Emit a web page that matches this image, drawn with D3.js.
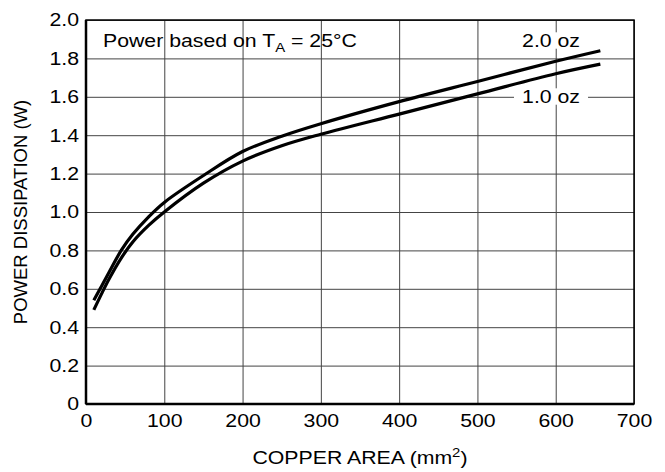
<!DOCTYPE html>
<html>
<head>
<meta charset="utf-8">
<script src="https://cdn.jsdelivr.net/npm/d3@7"></script>
<style>
  body { margin: 0; background: #fff; }
  svg { font-family: "Liberation Sans", Arial, Helvetica, sans-serif; }
  .grid line { stroke: #444; stroke-width: 1; }
  .tick text { fill: #000; font-size: 18.5px; }
</style>
</head>
<body>
<div id="chart"></div>
<script>
// copper area (mm^2) where the curves were read
var area = [10, 20, 30, 45, 60, 80, 100, 150, 200, 250, 300, 400, 500, 600, 657];
// 2.0 oz copper
var power2oz = [0.54, 0.615, 0.69, 0.80, 0.885, 0.975, 1.05, 1.19, 1.315, 1.395, 1.46, 1.575, 1.68, 1.785, 1.84];
// 1.0 oz copper
var power1oz = [0.49, 0.575, 0.655, 0.76, 0.845, 0.93, 1.00, 1.15, 1.265, 1.345, 1.405, 1.51, 1.615, 1.72, 1.77];

var xTicks = [0, 100, 200, 300, 400, 500, 600, 700];
var yTicks = [0, 0.2, 0.4, 0.6, 0.8, 1.0, 1.2, 1.4, 1.6, 1.8, 2.0];

var margin = {top: 20, right: 31, bottom: 68, left: 86},
    W = 665, H = 472,
    width = W - margin.left - margin.right,
    height = H - margin.top - margin.bottom,
    stretch = 1.15;   // the lettering in the picture is a bit wide

var svg = d3.select("#chart").append("svg")
    .attr("width", W)
    .attr("height", H);
var g = svg.append("g").attr("transform", "translate(" + margin.left + "," + margin.top + ")");

var x = d3.scaleLinear().domain([0, 700]).range([0, width]);
var y = d3.scaleLinear().domain([0, 2]).range([height, 0]);

// grid + tick labels
g.append("g")
    .attr("class", "grid")
    .attr("transform", "translate(0," + height + ")")
    .call(d3.axisBottom(x).tickValues(xTicks).tickSizeInner(-height).tickSizeOuter(0).tickPadding(9)
        .tickFormat(d3.format("d")))
    .call(function (s) {
        s.select(".domain").remove();
        s.selectAll(".tick text").attr("dy", "0.71em").attr("y", 10).attr("transform", "scale(" + stretch + ",1)");
    });

g.append("g")
    .attr("class", "grid")
    .call(d3.axisLeft(y).tickValues(yTicks).tickSizeInner(-width).tickSizeOuter(0).tickPadding(6)
        .tickFormat(function (d) { return d === 0 ? "0" : d3.format(".1f")(d); }))
    .call(function (s) {
        s.select(".domain").remove();
        s.selectAll(".tick text").attr("x", -6).attr("transform", "scale(" + stretch + ",1)");
    });

// frame
g.append("rect")
    .attr("width", width)
    .attr("height", height)
    .attr("fill", "none")
    .attr("stroke", "#000")
    .attr("stroke-width", 1.5);
g.append("line").attr("x1", 0).attr("x2", 0).attr("y1", 0).attr("y2", height)
    .attr("stroke", "#000").attr("stroke-width", 2.5);
g.append("line").attr("x1", 0).attr("x2", width).attr("y1", height).attr("y2", height)
    .attr("stroke", "#000").attr("stroke-width", 2.5);

// labels; the curve labels sit on a white patch that cuts the grid
function label(px, py, anchor, padX, padY) {
    var lg = g.append("g")
        .attr("transform", "translate(" + px + "," + py + ") scale(" + stretch + ",1)");
    var bg = lg.append("rect").attr("fill", "#fff");
    var t = lg.append("text")
        .attr("text-anchor", anchor)
        .attr("font-size", 18.5);
    t.fit = function () {
        var b = t.node().getBBox();
        bg.attr("x", b.x - padX).attr("y", b.y - padY)
          .attr("width", b.width + 2 * padX).attr("height", b.height + 2 * padY);
    };
    return t;
}

var note = label(17, 27, "start", 0, 0);
note.append("tspan").text("Power based on T");
note.append("tspan").attr("font-size", 13).attr("dy", 5).text("A");
note.append("tspan").attr("dy", -5).text(" = 25°C");

var l2 = label(x(594), 27, "middle", 4, -2);
l2.text("2.0 oz");
l2.fit();
var l1 = label(x(594), 83, "middle", 7, -2);
l1.text("1.0 oz");
l1.fit();

// curves
var line = d3.line()
    .curve(d3.curveCatmullRom.alpha(0.5))
    .x(function (d, i) { return x(area[i]); })
    .y(function (d) { return y(d); });

[power2oz, power1oz].forEach(function (s) {
    g.append("path")
        .datum(s)
        .attr("d", line)
        .attr("fill", "none")
        .attr("stroke", "#000")
        .attr("stroke-width", 3.2);
});

// axis titles
var xt = svg.append("g")
    .attr("transform", "translate(" + (margin.left + width / 2) + ",464) scale(" + stretch + ",1)")
    .append("text")
    .attr("text-anchor", "middle")
    .attr("font-size", 18.5);
xt.append("tspan").text("COPPER AREA (mm");
xt.append("tspan").attr("font-size", 13).attr("dy", -7).text("2");
xt.append("tspan").attr("dy", 7).text(")");

svg.append("text")
    .attr("transform", "translate(27," + (margin.top + height / 2) + ") rotate(-90)")
    .attr("text-anchor", "middle")
    .attr("font-size", 18.5)
    .text("POWER DISSIPATION (W)");
</script>
</body>
</html>
